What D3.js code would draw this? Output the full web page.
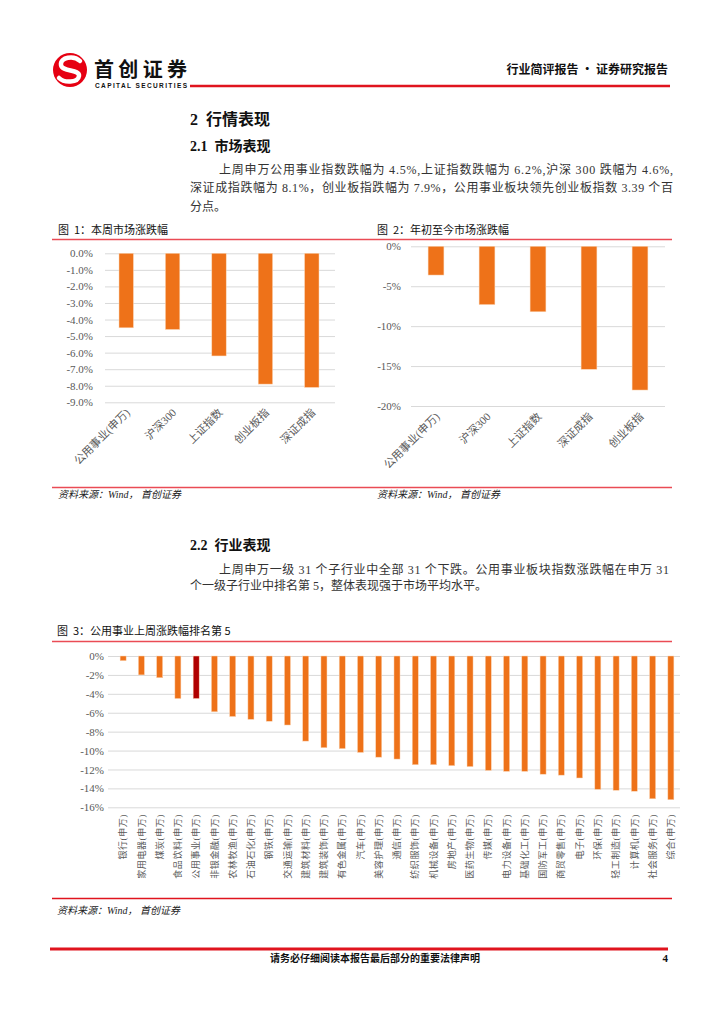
<!DOCTYPE html>
<html>
<head>
<meta charset="utf-8">
<script src="https://cdn.jsdelivr.net/npm/d3@7"></script>
<style>
  body { margin:0; background:#fff; }
  svg { display:block; }
</style>
</head>
<body>
<svg width="724" height="1024"></svg>
<script>
// chart 1: 本周市场涨跌幅
var weekCats = ["公用事业(申万)","沪深300","上证指数","创业板指","深证成指"];
var weekVals = [-4.5,-4.6,-6.2,-7.9,-8.1];
var weekTicks = [0,-1,-2,-3,-4,-5,-6,-7,-8,-9];

// chart 2: 年初至今市场涨跌幅
var ytdCats = ["公用事业(申万)","沪深300","上证指数","深证成指","创业板指"];
var ytdVals = [-3.6,-7.3,-8.2,-15.4,-18.0];
var ytdTicks = [0,-5,-10,-15,-20];

// chart 3: 申万一级行业上周涨跌幅
var indCats = ["银行","家用电器","煤炭","食品饮料","公用事业","非银金融","农林牧渔","石油石化","钢铁",
  "交通运输","建筑材料","建筑装饰","有色金属","汽车","美容护理","通信","纺织服饰","机械设备","房地产",
  "医药生物","传媒","电力设备","基础化工","国防军工","商贸零售","电子","环保","轻工制造","计算机",
  "社会服务","综合"];
var indVals = [-0.5,-2.0,-2.3,-4.5,-4.5,-5.9,-6.4,-6.7,-6.9,-7.3,-9.0,-9.7,-9.8,-10.2,-10.7,-10.9,
  -11.5,-11.5,-11.6,-11.7,-12.1,-12.2,-12.2,-12.5,-12.6,-12.9,-14.1,-14.2,-14.3,-15.1,-15.2];
var indTicks = [0,-2,-4,-6,-8,-10,-12,-14,-16];

var ORANGE = "#ee7219", DARKRED = "#b00000", RED = "#e0141e", PINK = "#ea4b55";
var SERIF = "'Liberation Serif','Noto Sans CJK SC',serif";
var SANS = "'Noto Sans CJK SC',sans-serif";
var SP = "\u00a0";

var svg = d3.select("svg");

// ---- header ----
var logo = svg.append("g");
logo.append("circle").attr("cx",70).attr("cy",70).attr("r",17).attr("fill","#e60012");
logo.append("path")
  .attr("d","M80,61 C74,55 60,57 61,65 C62,72 80,69 79,76 C78,83 64,83 59,78")
  .attr("fill","none").attr("stroke","#fff").attr("stroke-width",4.5).attr("stroke-linecap","round");
svg.append("text").attr("x",94).attr("y",77).attr("textLength",93)
  .attr("font-family",SANS).attr("font-weight","bold").attr("font-size",20).attr("fill","#111")
  .text("首创证券");
svg.append("text").attr("x",95).attr("y",88).attr("textLength",92)
  .attr("font-family","'Liberation Sans',sans-serif").attr("font-weight","bold").attr("font-size",6.5).attr("fill","#111")
  .text("CAPITAL SECURITIES");
svg.append("line").attr("x1",190).attr("x2",670).attr("y1",86).attr("y2",86)
  .attr("stroke",RED).attr("stroke-width",2.5);
svg.append("text").attr("x",668).attr("y",74).attr("text-anchor","end")
  .attr("font-family",SANS).attr("font-weight","bold").attr("font-size",12).attr("fill","#111")
  .text("行业简评报告" + SP + "·" + SP + "证券研究报告");

// ---- section text ----
function txt(x,y,s,size,opts){
  opts = opts || {};
  var t = svg.append("text").attr("x",x).attr("y",y)
    .attr("font-family",opts.family || SERIF).attr("font-size",size)
    .attr("fill",opts.fill || "#222").text(s);
  if(opts.bold) t.attr("font-weight","bold");
  if(opts.len) t.attr("textLength",opts.len).attr("lengthAdjust","spacing");
  if(opts.anchor) t.attr("text-anchor",opts.anchor);
  if(opts.italic) t.attr("font-style","italic");
  return t;
}
txt(190,125,"2"+SP+SP+"行情表现",16,{bold:true,fill:"#111"});
txt(190,151,"2.1"+SP+SP+"市场表现",14,{bold:true,fill:"#111"});
txt(219,174,"上周申万公用事业指数跌幅为 4.5%,上证指数跌幅为 6.2%,沪深 300 跌幅为 4.6%,",12,{len:454,fill:"#333"});
txt(190,192,"深证成指跌幅为 8.1%，创业板指跌幅为 7.9%，公用事业板块领先创业板指数 3.39 个百",12,{len:483,fill:"#333"});
txt(190,211,"分点。",12,{fill:"#333"});

txt(190,550,"2.2"+SP+SP+"行业表现",14,{bold:true,fill:"#111"});
txt(219,574,"上周申万一级 31 个子行业中全部 31 个下跌。公用事业板块指数涨跌幅在申万 31",12,{len:450,fill:"#333"});
txt(190,590,"个一级子行业中排名第 5，整体表现强于市场平均水平。",12,{fill:"#333"});

// ---- figure frames ----
function hline(x1,x2,y,color,w){
  svg.append("line").attr("x1",x1).attr("x2",x2).attr("y1",y).attr("y2",y)
    .attr("stroke",color).attr("stroke-width",w);
}
txt(58,234,"图"+SP+SP+"1：本周市场涨跌幅",11,{family:SANS,fill:"#111"});
txt(377,234,"图"+SP+SP+"2：年初至今市场涨跌幅",11,{family:SANS,fill:"#111"});
hline(52,672,239.5,PINK,1.5);
hline(52,672,487.5,PINK,1.5);
txt(58,498,"资料来源：Wind，"+SP+"首创证券",10,{italic:true,fill:"#222"});
txt(377,498,"资料来源：Wind，"+SP+"首创证券",10,{italic:true,fill:"#222"});

txt(57,635,"图"+SP+SP+"3：公用事业上周涨跌幅排名第 5",11,{family:SANS,fill:"#111"});
hline(52,672,641.5,PINK,1.5);
hline(52,672,898.5,RED,1.5);
txt(57,914,"资料来源：Wind，"+SP+"首创证券",10,{italic:true,fill:"#222"});

// ---- footer ----
hline(50,668,949,RED,3);
txt(375,962,"请务必仔细阅读本报告最后部分的重要法律声明",10,{family:SANS,bold:true,anchor:"middle",fill:"#111"});
txt(668,962,"4",11,{anchor:"end",bold:true,fill:"#111"});

// ---- bar chart helper ----
function barChart(c){
  var x = d3.scaleBand().domain(c.cats).range(c.xr).paddingInner(c.pad).paddingOuter(c.pad/2);
  var y = d3.scaleLinear().domain([c.ticks[c.ticks.length-1],0]).range(c.yr);
  var g = svg.append("g");

  var ax = g.append("g").attr("transform","translate("+c.gx[0]+",0)")
    .call(d3.axisLeft(y).tickValues(c.ticks).tickFormat(c.fmt)
      .tickSizeInner(-(c.gx[1]-c.gx[0])).tickSizeOuter(0).tickPadding(c.gx[0]-c.labelX));
  ax.select(".domain").remove();
  ax.selectAll(".tick line").attr("stroke","#d9d9d9").attr("stroke-width",1);
  ax.selectAll(".tick text").attr("font-family",SERIF).attr("font-size",c.fs).attr("fill","#595959");

  g.selectAll("rect.bar").data(c.vals).enter().append("rect")
    .attr("class","bar")
    .attr("x",function(d,i){ return x(c.cats[i]); })
    .attr("width",x.bandwidth())
    .attr("y",y(0))
    .attr("height",function(d){ return y(d)-y(0); })
    .attr("fill",function(d,i){ return c.hi === i ? DARKRED : ORANGE; })
    .attr("stroke","#fbd6b6").attr("stroke-width",0.5);

  g.selectAll("text.cat").data(c.labels).enter().append("text")
    .attr("class","cat")
    .attr("transform",function(d,i){
      var cx = x(c.cats[i]) + x.bandwidth()/2;
      return "translate("+(cx+c.lx)+","+c.ly+") rotate("+c.rot+")";
    })
    .attr("dy",c.rot === -90 ? "0.35em" : "0.3em")
    .attr("text-anchor","end")
    .attr("letter-spacing",c.ls || 0)
    .attr("font-family",SERIF).attr("font-size",c.lfs).attr("fill","#595959")
    .text(function(d){ return d; });
}

barChart({
  cats: weekCats, vals: weekVals, labels: weekCats, ticks: weekTicks,
  fmt: function(v){ return v.toFixed(1)+"%"; },
  xr:[103,335], gx:[105,335], yr:[402.3,253.3], pad:0.69, labelX:93, fs:11,
  lx:2, ly:411, rot:-45, lfs:11
});
barChart({
  cats: ytdCats, vals: ytdVals, labels: ytdCats, ticks: ytdTicks,
  fmt: function(v){ return v+"%"; },
  xr:[410.5,665.5], gx:[411,665], yr:[406,246.3], pad:0.69, labelX:401, fs:11,
  lx:2, ly:415, rot:-45, lfs:11
});
barChart({
  cats: indCats, vals: indVals, labels: indCats.map(function(d){ return d+"(申万)"; }), ticks: indTicks,
  fmt: function(v){ return v+"%"; },
  xr:[114,680], gx:[108,680], yr:[807.3,656], pad:0.67, labelX:104, fs:11,
  lx:0, ly:814, rot:-90, lfs:9, ls:0.6, hi:4
});
</script>
</body>
</html>
